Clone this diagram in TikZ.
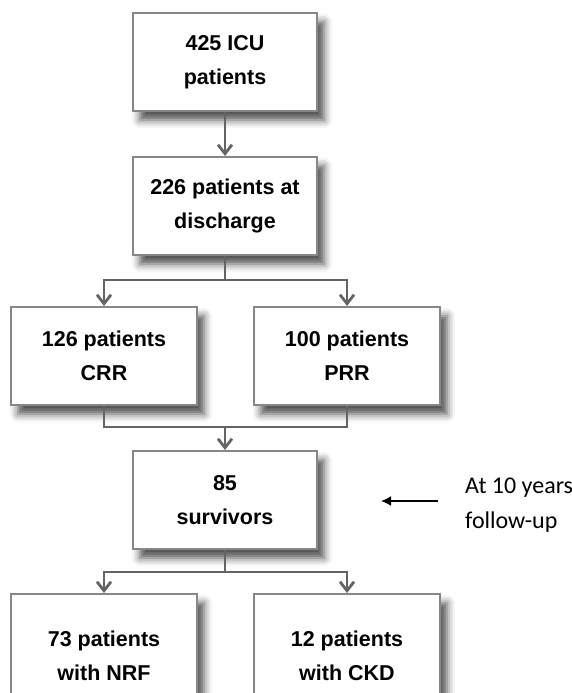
\documentclass[tikz,border=0pt]{standalone}
\usepackage{fontspec}
\setmainfont{Liberation Sans}
\newfontfamily\notefont{Carlito}
\usetikzlibrary{arrows.meta, shadows.blur}
\definecolor{boxgray}{RGB}{135,135,135}
\definecolor{linkgray}{RGB}{100,100,100}

\begin{document}
\begin{tikzpicture}[x=1pt, y=-1pt,
    flowbox/.style={draw=boxgray, line width=2pt, fill=white, minimum width=184pt, minimum height=98pt, align=center,
        font=\fontsize{21.5}{34}\selectfont\bfseries,
        blur shadow={shadow xshift=7pt, shadow yshift=-9pt, shadow blur radius=8pt, shadow opacity=70}},
    sidebox/.style={flowbox, minimum width=186pt},
    link/.style={draw=linkgray, line width=2.8pt},
    linkarrow/.style={link, -{Straight Barb[length=9pt, width=14pt]}}]
    \useasboundingbox (0,0) rectangle (572,693);
    \clip (0,0) rectangle (572,693);

    % Boxes
    \node[flowbox] (icu) at (225,62) {425 ICU\\patients};
    \node[flowbox] (disch) at (225,206) {226 patients at\\discharge};
    \node[sidebox] (crr) at (104,356) {126 patients\\CRR};
    \node[sidebox] (prr) at (347,356) {100 patients\\PRR};
    \node[flowbox] (surv) at (225,500) {85\\survivors};
    \node[sidebox, minimum height=124pt] (nrf) at (104,656) {73 patients\\with NRF};
    \node[sidebox, minimum height=124pt] (ckd) at (347,656) {12 patients\\with CKD};

    % Note
    \node[font=\notefont\fontsize{24}{35}\selectfont, align=left, anchor=west, inner sep=0pt] (note) at (465,505) {At 10 years\\follow-up};
    \coordinate (fuhead) at (381,501);
    \coordinate (futail) at (438,501);

    % Connections
    \draw[linkarrow] (icu) -- (disch);
    \coordinate (split1) at (225,280);
    \draw[link] (disch) -- (split1);
    \draw[linkarrow] (split1) -| (crr.north);
    \draw[linkarrow] (split1) -| (prr.north);
    \coordinate (merge) at (225,427);
    \draw[link] (crr.south) |- (merge) -| (prr.south);
    \draw[linkarrow] (merge) -- (surv);
    \coordinate (split2) at (225,572);
    \draw[link] (surv) -- (split2);
    \draw[linkarrow] (split2) -| (nrf.north);
    \draw[linkarrow] (split2) -| (ckd.north);
    \draw[line width=1.8pt, -{Latex[length=10pt, width=10pt]}] (futail) -- (fuhead);
\end{tikzpicture}
\end{document}
